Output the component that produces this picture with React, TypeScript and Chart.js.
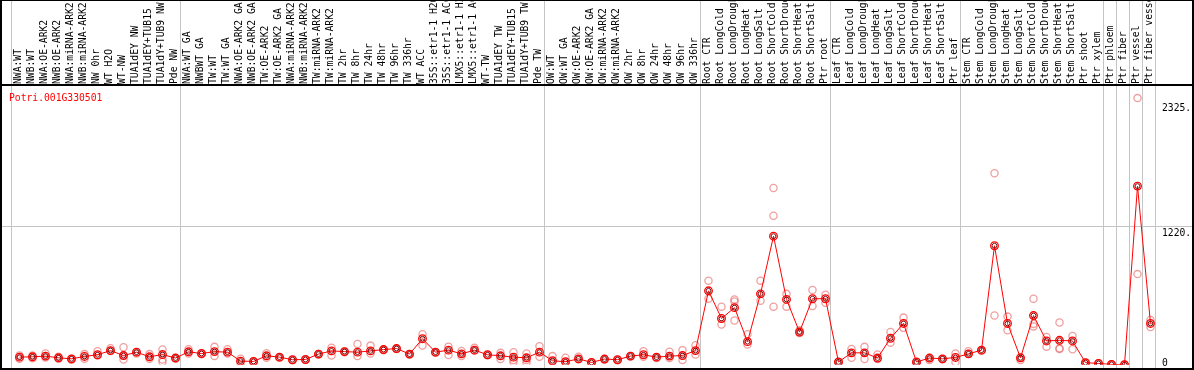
import React, { useEffect, useRef } from "react";
import { Chart, registerables } from "chart.js";

Chart.register(...registerables);

const title = "Potri.001G330501";

const categories = [
  "NWA:WT", "NWB:WT", "NWA:OE-ARK2", "NWB:OE-ARK2", "NWA:miRNA-ARK2", "NWB:miRNA-ARK2",
  "NW 0hr", "WT H2O", "WT-NW", "TUA1dEY NW", "TUA1dEY+TUB15", "TUA1dY+TUB9 NW", "Pde NW",
  "NWA:WT GA", "NWBWT GA", "TW:WT", "TW:WT GA", "NWA:OE-ARK2 GA", "NWB:OE-ARK2 GA",
  "TW:OE-ARK2", "TW:OE-ARK2 GA", "NWA:miRNA-ARK2", "NWB:miRNA-ARK2", "TW:miRNA-ARK2",
  "TW:miRNA-ARK2", "TW 2hr", "TW 8hr", "TW 24hr", "TW 48hr", "TW 96hr", "TW 336hr",
  "WT ACC", "35S::etr1-1 H2O", "35S::etr1-1 ACC", "LMX5::etr1-1 H2O", "LMX5::etr1-1 ACC",
  "WT-TW", "TUA1dEY TW", "TUA1dEY+TUB15", "TUA1dY+TUB9 TW", "Pde TW",
  "OW:WT", "OW:WT GA", "OW:OE-ARK2", "OW:OE-ARK2 GA", "OW:miRNA-ARK2", "OW:miRNA-ARK2",
  "OW 2hr", "OW 8hr", "OW 24hr", "OW 48hr", "OW 96hr", "OW 336hr",
  "Root CTR", "Root LongCold", "Root LongDrought", "Root LongHeat", "Root LongSalt",
  "Root ShortCold", "Root ShortDrought", "Root ShortHeat", "Root ShortSalt", "Ptr root",
  "Leaf CTR", "Leaf LongCold", "Leaf LongDrought", "Leaf LongHeat", "Leaf LongSalt",
  "Leaf ShortCold", "Leaf ShortDrought", "Leaf ShortHeat", "Leaf ShortSalt", "Ptr leaf",
  "Stem CTR", "Stem LongCold", "Stem LongDrought", "Stem LongHeat", "Stem LongSalt",
  "Stem ShortCold", "Stem ShortDrought", "Stem ShortHeat", "Stem ShortSalt",
  "Ptr shoot", "Ptr xylem", "Ptr phloem", "Ptr fiber", "Ptr vessel", "Ptr fiber vessel",
];

// index of the first category of each group (88 = end)
const groupStarts = [0, 13, 41, 53, 63, 73, 84, 85, 86, 87, 88];

const means = [
  67, 70, 76, 61, 52, 73, 88, 125, 81, 111, 70, 90, 59,
  114, 99, 116, 111, 32, 29, 79, 67, 44, 46, 94, 122, 116, 111, 122, 134, 143, 94,
  230, 111, 129, 96, 129, 88, 79, 67, 61, 111,
  35, 26, 52, 20, 50, 44, 76, 88, 67, 76, 81, 125,
  654, 409, 505, 204, 627, 1138, 578, 289, 584, 584,
  24, 105, 105, 59, 234, 365, 24, 59, 52, 64,
  96, 129, 1053, 365, 61, 435, 210, 216, 210,
  18, 11, 3, 0, 1581, 365,
];

const rep1 = [
  81, 81, 99, 70, 53, 94, 120, 146, 155, 111, 94, 134, 59,
  137, 99, 158, 137, 53, 29, 102, 67, 44, 46, 94, 151, 116, 184, 169, 134, 143, 94,
  269, 111, 160, 122, 149, 88, 105, 111, 99, 164,
  76, 61, 70, 20, 50, 44, 76, 120, 67, 114, 129, 172,
  744, 514, 578, 269, 744, 1564, 627, 304, 662, 619,
  24, 140, 158, 90, 289, 417, 18, 41, 52, 99,
  120, 129, 1695, 426, 41, 584, 245, 374, 254,
  18, 11, 3, 0, 2360, 396,
];

const rep2 = [
  53, 58, 64, 53, 44, 53, 81, 122, 46, 100, 53, 46, 55,
  99, 92, 76, 99, 0, 26, 61, 62, 40, 42, 90, 81, 110, 76, 99, 128, 138, 90,
  169, 105, 85, 76, 125, 84, 50, 41, 18, 70,
  30, 22, 48, 18, 46, 40, 72, 70, 60, 60, 41, 90,
  584, 356, 560, 178, 566, 1319, 514, 280, 519, 549,
  20, 61, 50, 50, 195, 326, 24, 59, 48, 24,
  96, 125, 435, 304, 61, 361, 160, 146, 137,
  18, 11, 3, 0, 802, 333,
];

const rep3 = [
  null, null, null, null, null, null, null, null, 81, null, null, 24, null,
  null, null, null, null, null, null, null, null, null, null, null, null, null, null, null, null, null, null,
  null, null, null, null, null, null, null, 24, 41, null,
  null, null, null, null, null, null, null, null, null, null, null, null,
  null, null, 391, null, null, 514, null, null, null, null,
  null, null, null, null, null, null, null, null, null, null,
  null, null, null, null, null, 339, null, 140, null,
  null, null, null, null, null, null,
];

const yMax = 2476;
const yTickValues = [0, 1220, 2325];
const yTickLabels = ["0", "1220.", "2325."];
const gridValues = [1220];

const MONO = '9.7px "DejaVu Sans Mono", monospace';

const decorPlugin = {
  id: "decor",
  beforeDraw(chart: any) {
    const { ctx, width, height } = chart;
    ctx.save();
    ctx.fillStyle = "#ffffff";
    ctx.fillRect(0, 0, width, height);
    ctx.restore();
  },
  beforeDatasetsDraw(chart: any) {
    const { ctx } = chart;
    const xs = chart.scales.x;
    const ys = chart.scales.y;
    const step = xs.getPixelForValue(1) - xs.getPixelForValue(0);
    ctx.save();
    ctx.fillStyle = "#c4c4c4";
    for (const k of groupStarts) {
      const x = xs.getPixelForValue(0) + step * k - 8.3;
      ctx.fillRect(Math.round(x), 0, 1, 368);
    }
    for (const v of gridValues) {
      const y = ys.getPixelForValue(v);
      ctx.fillRect(0, Math.floor(y), 1192, 1);
    }
    ctx.restore();
  },
  afterDraw(chart: any) {
    const { ctx } = chart;
    const xs = chart.scales.x;
    const ys = chart.scales.y;
    ctx.save();
    // frame
    ctx.fillStyle = "#000000";
    ctx.fillRect(0, 0, 1194, 1);
    ctx.fillRect(0, 84, 1194, 2);
    ctx.fillRect(0, 368, 1194, 2);
    ctx.fillRect(0, 0, 2, 370);
    ctx.fillRect(1192, 0, 2, 370);

    // category labels
    ctx.font = MONO;
    ctx.fillStyle = "#000000";
    ctx.textAlign = "left";
    ctx.textBaseline = "middle";
    ctx.beginPath();
    ctx.rect(0, 0, 1194, 84);
    ctx.clip();
    categories.forEach((lab, i) => {
      const x = xs.getPixelForValue(i);
      ctx.save();
      ctx.translate(x - 1, 84);
      ctx.rotate(-Math.PI / 2);
      ctx.fillText(lab, 0, 0);
      ctx.restore();
    });
    ctx.restore();

    ctx.save();
    // title
    ctx.font = MONO;
    ctx.fillStyle = "#ff0000";
    ctx.textAlign = "left";
    ctx.textBaseline = "alphabetic";
    ctx.fillText(title, 9, 101);

    // y tick labels
    ctx.fillStyle = "#000000";
    yTickValues.forEach((v, i) => {
      const y = ys.getPixelForValue(v);
      ctx.fillText(yTickLabels[i], 1162, Math.min(y + 9, 366));
    });
    ctx.restore();
  },
};

export default function App() {
  const canvasRef = useRef<HTMLCanvasElement | null>(null);

  useEffect(() => {
    document.body.style.margin = "0";
    const canvas = canvasRef.current;
    if (!canvas) return;
    const repStyle = {
      showLine: false,
      borderColor: "rgba(228, 95, 95, 0.6)",
      backgroundColor: "rgba(0,0,0,0)",
      pointRadius: 3.6,
      pointBorderWidth: 1.3,
      pointBorderColor: "rgba(228, 95, 95, 0.6)",
      pointBackgroundColor: "rgba(0,0,0,0)",
      order: 3,
    };
    const chart = new Chart(canvas, {
      type: "line",
      data: {
        labels: categories,
        datasets: [
          {
            label: "mean",
            data: means,
            borderColor: "#ff0000",
            borderWidth: 1,
            tension: 0,
            pointRadius: 3.8,
            pointBorderWidth: 1.3,
            pointBorderColor: "#ff0000",
            pointBackgroundColor: "rgba(0,0,0,0)",
            order: 1,
          },
          {
            label: "mean inner",
            data: means,
            showLine: false,
            pointRadius: 2.4,
            pointBorderWidth: 0.9,
            pointBorderColor: "#600000",
            pointBackgroundColor: "rgba(0,0,0,0)",
            order: 0,
          },
          { label: "rep1", data: rep1, ...repStyle },
          { label: "rep2", data: rep2, ...repStyle },
          { label: "rep3", data: rep3, ...repStyle },
        ],
      },
      options: {
        responsive: false,
        animation: false,
        events: [],
        layout: { padding: { left: 13, right: 37, top: 85, bottom: 2 } },
        plugins: {
          legend: { display: false },
          tooltip: { enabled: false },
          title: { display: false },
        },
        scales: {
          x: { type: "category", display: false, offset: true },
          y: { type: "linear", display: false, min: 0, max: yMax },
        },
      },
      plugins: [decorPlugin],
    });
    return () => chart.destroy();
  }, []);

  return (
    <div style={{ width: 1194, height: 370 }}>
      <canvas ref={canvasRef} width={1194} height={370} style={{ display: "block" }} />
    </div>
  );
}
